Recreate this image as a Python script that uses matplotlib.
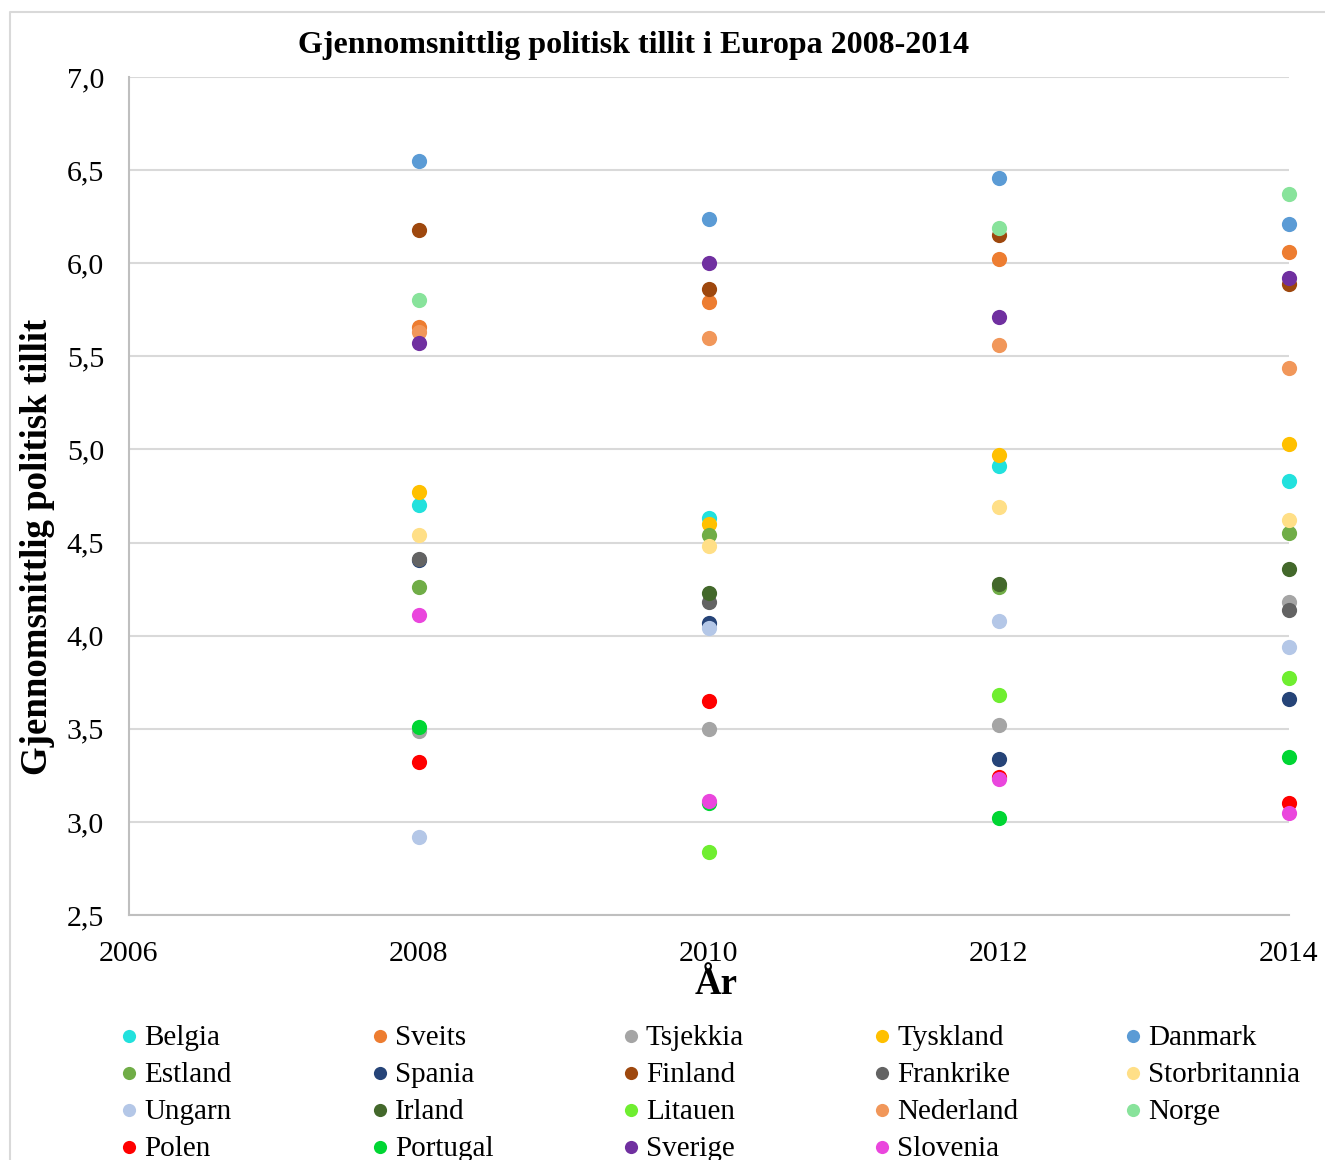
import matplotlib
matplotlib.use("Agg")
import matplotlib.pyplot as plt
import numpy as np

plt.rcParams['font.family'] = ['Liberation Serif', 'DejaVu Serif']

# data (nan = no visible point)
years = [2008, 2010, 2012, 2014]
countries = ["Belgia", "Sveits", "Tsjekkia", "Tyskland", "Danmark",
             "Estland", "Spania", "Finland", "Frankrike", "Storbritannia",
             "Ungarn", "Irland", "Litauen", "Nederland", "Norge",
             "Polen", "Portugal", "Sverige", "Slovenia"]
nan = np.nan
belgia = [4.70, 4.63, 4.91, 4.83]
sveits = [5.66, 5.79, 6.02, 6.06]
tsjekkia = [3.49, 3.50, 3.52, 4.18]
tyskland = [4.77, 4.60, 4.97, 5.03]
danmark = [6.55, 6.24, 6.46, 6.21]
estland = [4.26, 4.54, 4.26, 4.55]
spania = [4.405, 4.07, 3.34, 3.66]
finland = [6.18, 5.86, 6.15, 5.89]
frankrike = [4.41, 4.18, nan, 4.14]
storbritannia = [4.54, 4.48, 4.69, 4.62]
ungarn = [2.92, 4.04, 4.08, 3.94]
irland = [nan, 4.23, 4.28, 4.36]
litauen = [nan, 2.84, 3.68, 3.77]
nederland = [5.63, 5.60, 5.56, 5.44]
norge = [5.80, nan, 6.19, 6.37]
polen = [3.32, 3.65, 3.24, 3.10]
portugal = [3.51, 3.10, 3.02, 3.35]
sverige = [5.57, 6.00, 5.71, 5.92]
slovenia = [4.11, 3.11, 3.23, 3.05]

values = [belgia, sveits, tsjekkia, tyskland, danmark,
          estland, spania, finland, frankrike, storbritannia,
          ungarn, irland, litauen, nederland, norge,
          polen, portugal, sverige, slovenia]
colors = ["#22E1DD", "#ED7D31", "#A5A5A5", "#FFC000", "#5B9BD5",
          "#70AD47", "#264478", "#9E480E", "#636363", "#FFDF87",
          "#B4C7E7", "#43682B", "#6FEE30", "#F1975A", "#88E39B",
          "#FF0000", "#00D633", "#7030A0", "#EA46DD"]

W, H = 1325, 1160
fig = plt.figure(figsize=(W / 100, H / 100), dpi=100)

# overlay in pixel coords for frame and legend
ov = fig.add_axes([0, 0, 1, 1])
ov.set_xlim(0, W)
ov.set_ylim(H, 0)
ov.axis("off")
ov.plot([10, 10, W + 5], [H + 5, 12, 12], color="#D9D9D9", lw=1.5)

ax = fig.add_axes([129 / W, 1 - 915 / H, (1289 - 129) / W, (915 - 77) / H])
ax.set_facecolor("none")

for name, vals, c in zip(countries, values, colors):
    ax.scatter(years, vals, s=120, color=c, label=name, clip_on=False,
               zorder=3, linewidths=0)

ax.set_xlim(2006, 2014)
ax.set_ylim(2.5, 7.0)
ax.set_xticks([2006, 2008, 2010, 2012, 2014])
ax.set_yticks(np.arange(2.5, 7.01, 0.5))
ax.set_yticklabels([("%.1f" % v).replace(".", ",") for v in np.arange(2.5, 7.01, 0.5)])
ax.tick_params(axis="both", length=0, labelsize=21.5)
ax.tick_params(axis="x", pad=19)
ax.tick_params(axis="y", pad=18)
ax.grid(axis="y", color="#D9D9D9", lw=1.5)
ax.set_axisbelow(True)
for s in ["top", "right"]:
    ax.spines[s].set_visible(False)
for s in ["left", "bottom"]:
    ax.spines[s].set_color("#BFBFBF")
    ax.spines[s].set_linewidth(1.5)

fig.text(634 / W, 1 - 45 / H, "Gjennomsnittlig politisk tillit i Europa 2008-2014",
         ha="center", va="center", fontsize=23, fontweight="bold")
fig.text(38 / W, 1 - 547 / H, "Gjennomsnittlig politisk tillit", rotation=90,
         ha="center", va="center", fontsize=26.6, fontweight="bold")
fig.text(716 / W, 1 - 985 / H, "År", ha="center", va="center",
         fontsize=26.6, fontweight="bold")

# legend, 5 columns, row-wise order
for i, (name, c) in enumerate(zip(countries, colors)):
    col, row = i % 5, i // 5
    x = 129 + col * 251
    y = 1036 + row * 37
    ov.scatter([x], [y], s=90, color=c, linewidths=0, clip_on=False)
    ov.text(x + 15, y + 2, name, ha="left", va="center", fontsize=21)

fig.savefig("out.png", dpi=100)
